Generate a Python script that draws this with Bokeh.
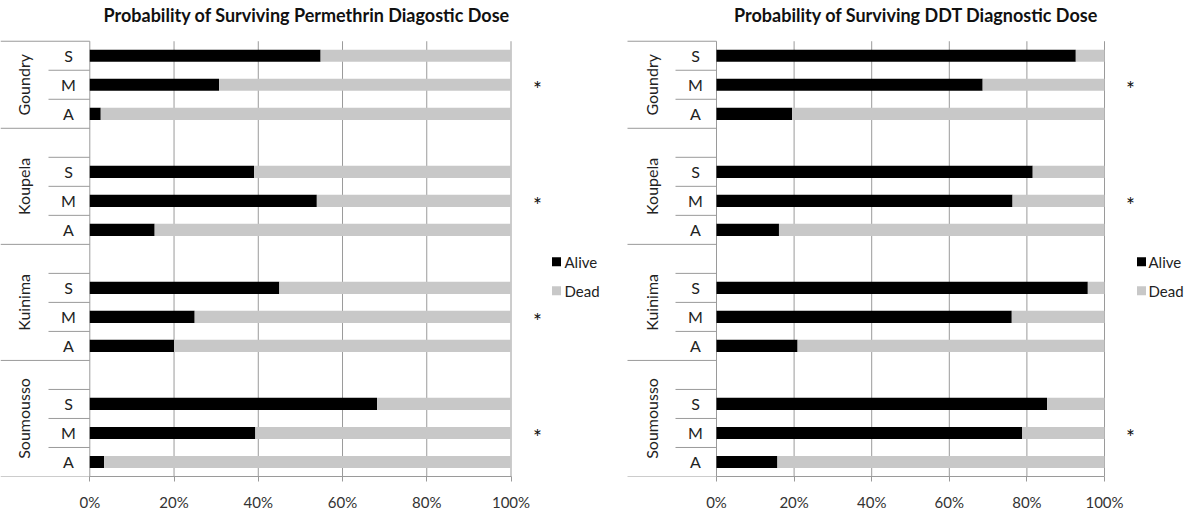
import math
from bokeh.plotting import figure
from bokeh.models import Range1d, FixedTicker, NumeralTickFormatter
from bokeh.layouts import row
from bokeh.embed import file_html
from bokeh.resources import INLINE
from bokeh.core.properties import value

# ---------------- data ----------------
groups = ["Goundry", "Koupela", "Kuinima", "Soumousso"]
classes = ["S", "M", "A"]
series = ["Alive", "Dead"]
series_colors = ["#000000", "#c8c8c8"]
tick_values = [0, 0.2, 0.4, 0.6, 0.8, 1.0]
tick_labels = ["0%", "20%", "40%", "60%", "80%", "100%"]

# proportion alive, order: Goundry S,M,A / Koupela S,M,A / Kuinima S,M,A / Soumousso S,M,A
perm_alive = [0.548, 0.307, 0.026,
              0.390, 0.539, 0.154,
              0.450, 0.249, 0.200,
              0.682, 0.393, 0.034]
ddt_alive = [0.926, 0.686, 0.195,
             0.815, 0.763, 0.161,
             0.957, 0.761, 0.209,
             0.852, 0.788, 0.157]
perm_signif = ["Goundry", "Koupela", "Kuinima", "Soumousso"]
ddt_signif = ["Goundry", "Koupela", "Soumousso"]

perm_title = "Probability of Surviving Permethrin Diagostic Dose"
ddt_title = "Probability of Surviving DDT Diagnostic Dose"

FONT = "Lato"
H = 513
BOTTOM = 34
N_SLOTS = 15
TOP_PAGE = 41.0            # page y of slot 0
BOT_PAGE = H - BOTTOM      # page y of frame bottom
SLOT = (BOT_PAGE - TOP_PAGE) / N_SLOTS
Y_TOP = -TOP_PAGE / SLOT
LINE = "#9a9a9a"


def panel(title, alive, signif, fig_left, fig_w, zero_px, unit_px, group_left_px,
          inner_left_px, group_label_px, letter_px, star_px, leg_sq_px, leg_text_px):
    X = lambda px: (px - zero_px) / unit_px
    Y = lambda py: (py - TOP_PAGE) / SLOT
    p = figure(width=fig_w, height=H,
               x_range=Range1d(X(fig_left), X(fig_left + fig_w)),
               y_range=Range1d(N_SLOTS, Y_TOP),
               output_backend="svg", toolbar_location=None,
               min_border_left=0, min_border_right=0, min_border_top=0,
               min_border_bottom=BOTTOM, outline_line_color=None)
    p.grid.visible = False
    p.yaxis.visible = False

    ax = p.xaxis[0]
    ax.ticker = FixedTicker(ticks=tick_values)
    ax.formatter = NumeralTickFormatter(format="0%")
    ax.major_label_overrides = {v: l for v, l in zip(tick_values, tick_labels)}
    ax.bounds = (0, 1)
    ax.axis_line_color = LINE
    ax.major_tick_line_color = LINE
    ax.major_tick_out = 5
    ax.major_tick_in = 0
    ax.minor_tick_line_color = None
    ax.major_label_standoff = 11
    ax.major_label_text_font = FONT
    ax.major_label_text_font_size = "15px"
    ax.major_label_text_color = "#333333"

    # vertical gridlines
    n = len(tick_values)
    p.segment(x0=tick_values, y0=[0] * n, x1=tick_values, y1=[N_SLOTS] * n,
              line_color=LINE, line_width=1)

    ys = [4 * g + c + 0.5 for g in range(len(groups)) for c in range(len(classes))]
    dead = [1 - a for a in alive]
    p.hbar(y=ys, left=0, right=alive, height=0.42, fill_color=series_colors[0],
           line_color=None)
    p.hbar(y=ys, left=alive, right=[a + d for a, d in zip(alive, dead)], height=0.42,
           fill_color=series_colors[1], line_color=None)

    # category box lines
    tops = [0] + [4 * g - 1 for g in range(1, len(groups))] + [N_SLOTS]
    p.segment(x0=[X(group_left_px)] * len(tops), y0=tops, x1=[0] * len(tops), y1=tops,
              line_color=LINE, line_width=1)
    inner = [y for g in range(len(groups)) for y in
             range(tops[g] + 1, tops[g + 1])]
    p.segment(x0=[X(inner_left_px)] * len(inner), y0=inner, x1=[0] * len(inner),
              y1=inner, line_color=LINE, line_width=1)

    p.text(x=[X(letter_px)] * len(ys), y=ys, text=classes * len(groups),
           text_font=value(FONT), text_font_size="16px", text_color="#222222",
           text_align="center", text_baseline="middle")
    centers = [(tops[g] + tops[g + 1]) / 2 for g in range(len(groups))]
    p.text(x=[X(group_label_px)] * len(groups), y=centers, text=groups,
           angle=math.pi / 2, text_font=value(FONT), text_font_size="16px",
           text_color="#222222", text_align="center", text_baseline="middle")

    # title
    p.text(x=[0.515], y=[Y(15)], text=[title],
           text_font=value(FONT), text_font_style="bold", text_font_size="18px",
           text_color="#111111", text_align="center", text_baseline="middle")

    # significance markers
    sy = [4 * groups.index(g) + 1.5 for g in signif]
    p.text(x=[X(star_px)] * len(sy), y=sy, text=["*"] * len(sy), y_offset=4,
           text_font=value(FONT), text_font_size="21px", text_color="#111111",
           text_align="center", text_baseline="middle")

    # legend
    ly = [Y(263), Y(292)]
    p.scatter(x=[X(leg_sq_px)] * 2, y=ly, marker="square", size=9,
              fill_color=series_colors, line_color=None)
    p.text(x=[X(leg_text_px)] * 2, y=ly, text=series, text_font=value(FONT),
           text_font_size="15px", text_color="#222222", text_align="left",
           text_baseline="middle")
    return p


p1 = panel(perm_title, perm_alive, perm_signif, 0, 600, 89.3, 421.2, 0,
           48, 23, 68, 537, 556, 564)
p2 = panel(ddt_title, ddt_alive, ddt_signif, 600, 584, 716, 388, 627,
           675, 651, 695, 1130, 1141, 1148)

layout = row(p1, p2)
open("out.html", "w").write(file_html(layout, INLINE))
